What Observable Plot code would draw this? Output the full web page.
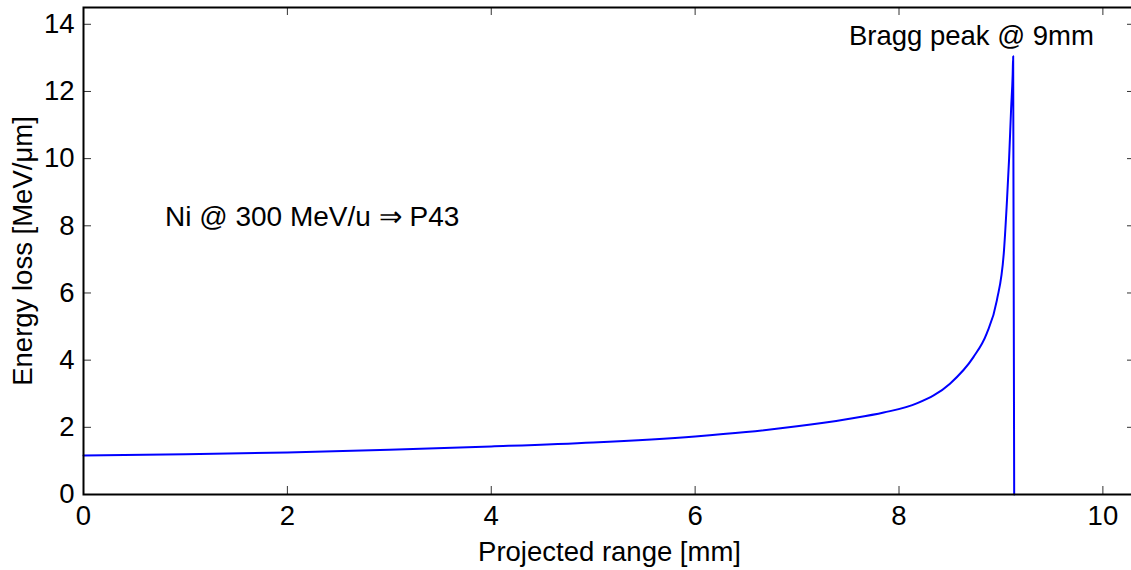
<!DOCTYPE html>
<html><head><meta charset="utf-8">
<script src="https://cdn.jsdelivr.net/npm/d3@7"></script>
<script src="https://cdn.jsdelivr.net/npm/@observablehq/plot@0.6"></script>
<style>html,body{margin:0;padding:0;overflow:hidden;background:#fff}</style>
</head><body><div id="chart"></div>
<script>
// Projected range [mm] and energy loss [MeV/µm]
const rangeMM    = [0, 1, 2, 3, 4, 5, 6, 6.5, 7, 7.5, 7.85, 8.18, 8.5, 8.73, 8.86, 8.96, 9.03, 9.06, 9.08, 9.1, 9.115, 9.12, 9.13];
const energyLoss = [1.16, 1.2, 1.25, 1.33, 1.43, 1.55, 1.73, 1.86, 2.03, 2.25, 2.44, 2.72, 3.3, 4.09, 4.79, 5.78, 7.27, 8.8, 10.0, 11.5, 12.5, 13.05, 0];

const xTicks = [0, 2, 4, 6, 8, 10];
const yTicks = [0, 2, 4, 6, 8, 10, 12, 14];
const xDomain = [0, 10.32];
const yDomain = [0, 14.5];

const noteText = ["Bragg peak @ 9mm", "Ni @ 300 MeV/u \u21D2 P43"];
const noteX = [8.71, 0.8];
const noteY = [13.38, 8.26];
const xLabel = "Projected range [mm]";
const yLabel = "Energy loss [MeV/\u03BCm]";

const series = rangeMM.map((x, i) => ({x, y: energyLoss[i]}));

const W = 1135, H = 570, mL = 83, mR = 0, mT = 7, mB = 76;
const plotW = W - mL - mR, plotH = H - mT - mB, tickLen = 8;
const font = "'Liberation Sans', Arial, sans-serif";
const fs = 27.5;

const chart = Plot.plot({
  width: W, height: H,
  marginLeft: mL, marginRight: mR, marginTop: mT, marginBottom: mB,
  style: {maxWidth: "none", fontFamily: font, fontSize: fs + "px", color: "#000", background: "#fff"},
  x: {domain: xDomain},
  y: {domain: yDomain},
  marks: [
    Plot.axisX(xTicks, {tickSize: 0, tickPadding: 11, fontSize: fs, label: xLabel, labelAnchor: "center", labelArrow: "none", labelOffset: 66}),
    Plot.axisY(yTicks, {tickSize: 0, tickPadding: 9, fontSize: fs, label: yLabel, labelAnchor: "center", labelArrow: "none", labelOffset: 71}),
    // inward ticks on all four sides
    Plot.tickY(yTicks, {y: d => d, insetRight: plotW - tickLen, stroke: "#333", strokeWidth: 1}),
    Plot.tickY(yTicks, {y: d => d, insetLeft: plotW - tickLen, stroke: "#333", strokeWidth: 1}),
    Plot.tickX(xTicks, {x: d => d, insetTop: plotH - tickLen, stroke: "#333", strokeWidth: 1}),
    Plot.tickX(xTicks, {x: d => d, insetBottom: plotH - tickLen, stroke: "#333", strokeWidth: 1}),
    Plot.line(series, {x: "x", y: "y", stroke: "#0000ff", strokeWidth: 2, curve: "monotone-x"}),
    Plot.text([0], {x: () => noteX[0], y: () => noteY[0], text: () => noteText[0], textAnchor: "middle", lineAnchor: "bottom", fontSize: fs, fill: "#000"}),
    Plot.text([1], {x: () => noteX[1], y: () => noteY[1], text: () => noteText[1], textAnchor: "start", lineAnchor: "middle", fontSize: 28, fill: "#000"}),
    Plot.frame({stroke: "#000", strokeWidth: 2})
  ]
});
document.getElementById("chart").appendChild(chart);
</script>
</body></html>
